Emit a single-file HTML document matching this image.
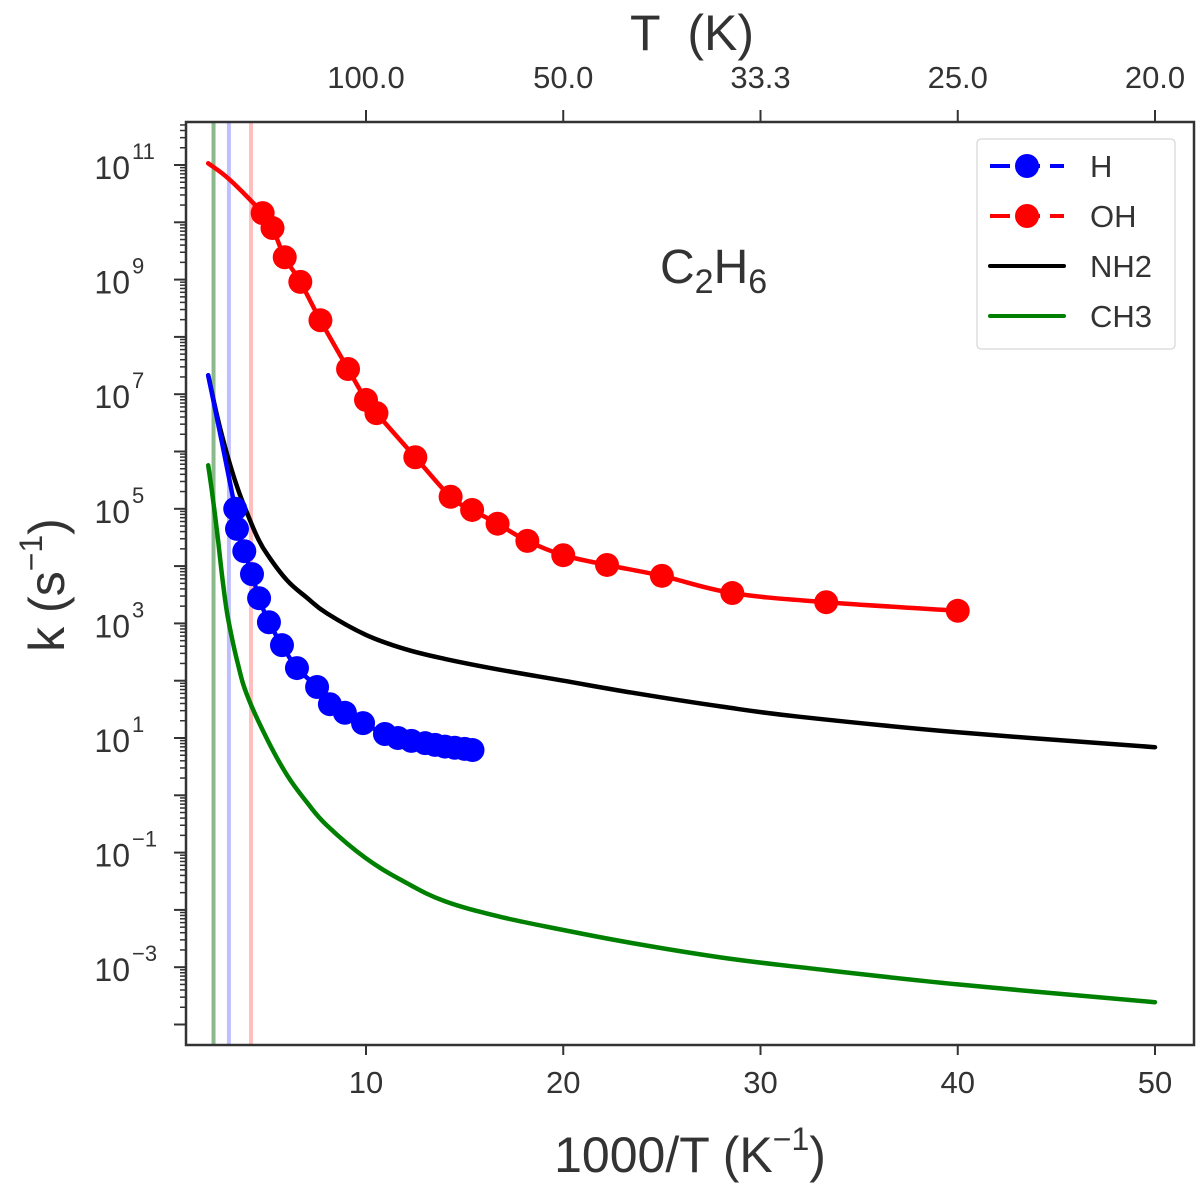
<!DOCTYPE html>
<html><head><meta charset="utf-8"><style>
html,body{margin:0;padding:0;background:#fff;}
svg{display:block;font-family:"Liberation Sans",sans-serif;}
</style></head><body>
<svg id="chart" width="1200" height="1188" viewBox="0 0 1200 1188" xmlns="http://www.w3.org/2000/svg">
<g id="vlines"></g>
<g id="series"></g>
<g id="axes"></g>
<text x="692" y="50" font-size="50" text-anchor="middle" fill="#333">T &#160;(K)</text>
<text x="690" y="1172" font-size="50" text-anchor="middle" fill="#333">1000/T (K<tspan font-size="32" dy="-22">−1</tspan><tspan dy="22">)</tspan></text>
<text transform="translate(64,585) rotate(-90)" font-size="50" text-anchor="middle" fill="#333">k (s<tspan font-size="32" dy="-22">−1</tspan><tspan dy="22">)</tspan></text>
<text x="660" y="283" font-size="48" fill="#333">C<tspan font-size="34" dy="10">2</tspan><tspan dy="-10">H</tspan><tspan font-size="34" dy="10">6</tspan></text>
<g>
<rect x="977" y="139" width="198" height="210" rx="4" fill="#fff" stroke="#ddd" stroke-width="1.5"/>
<g><line x1="990" y1="166" x2="1064" y2="166" stroke="#0000ff" stroke-width="4" stroke-dasharray="20,10"/><circle cx="1027" cy="166" r="12" fill="#0000ff"/><text x="1090" y="177" font-size="31" fill="#333">H</text></g>
<g><line x1="990" y1="216" x2="1064" y2="216" stroke="#ff0000" stroke-width="4" stroke-dasharray="20,10"/><circle cx="1027" cy="216" r="12" fill="#ff0000"/><text x="1090" y="227" font-size="31" fill="#333">OH</text></g>
<g><line x1="990" y1="266" x2="1064" y2="266" stroke="#000" stroke-width="4" stroke-linecap="round"/><text x="1090" y="277" font-size="31" fill="#333">NH2</text></g>
<g><line x1="990" y1="316" x2="1064" y2="316" stroke="#008000" stroke-width="4" stroke-linecap="round"/><text x="1090" y="327" font-size="31" fill="#333">CH3</text></g>
</g>
</svg>
<script>
// data (x = 1000/T, values = log10 k)
const ohX = [2, 3.1, 4.76, 5.26, 5.88, 6.67, 7.69, 9.09, 10, 10.53, 12.5, 14.29, 15.38, 16.67, 18.18, 20, 22.22, 25, 28.57, 33.33, 40];
const ohLogK = [11.03, 10.74, 10.16, 9.90, 9.39, 8.96, 8.29, 7.44, 6.90, 6.67, 5.90, 5.21, 4.98, 4.74, 4.44, 4.19, 4.02, 3.83, 3.53, 3.37, 3.22];
const ohMarkerStart = 2;
const hX = [2, 3.37, 3.46, 3.83, 4.22, 4.58, 5.08, 5.74, 6.5, 7.52, 8.17, 8.93, 9.85, 10.96, 11.62, 12.3, 13.0, 13.5, 14.0, 14.5, 15.0, 15.4];
const hLogK = [7.33, 5.0, 4.65, 4.26, 3.86, 3.44, 3.02, 2.62, 2.22, 1.89, 1.59, 1.44, 1.26, 1.07, 1.0, 0.95, 0.91, 0.88, 0.85, 0.83, 0.81, 0.79];
const hMarkerStart = 1;
const nh2X = [2, 2.5, 3, 3.5, 4, 4.5, 5, 6, 7, 8, 10, 12, 14, 16.8, 20, 23.5, 28, 32, 40, 50];
const nh2LogK = [7.33, 6.55, 5.9, 5.35, 4.9, 4.5, 4.2, 3.75, 3.45, 3.18, 2.8, 2.55, 2.38, 2.19, 2.0, 1.79, 1.55, 1.37, 1.1, 0.84];
const ch3X = [2, 2.25, 2.5, 2.75, 3, 3.5, 4, 5, 6, 7, 8, 10, 12, 14, 16.8, 20, 23.5, 28, 32, 40, 50];
const ch3LogK = [5.76, 5.15, 4.45, 3.7, 3.1, 2.3, 1.72, 0.97, 0.35, -0.12, -0.52, -1.1, -1.52, -1.85, -2.12, -2.35, -2.58, -2.83, -3.0, -3.3, -3.61];
const vlineX = [2.27, 3.05, 4.17];
const vlineColors = ['rgba(0,100,0,0.45)', 'rgba(0,0,255,0.25)', 'rgba(255,0,0,0.25)'];
const xTicks = [10, 20, 30, 40, 50];
const topTickLabels = ['100.0', '50.0', '33.3', '25.0', '20.0'];
const yMajor = [-4, -3, -2, -1, 0, 1, 2, 3, 4, 5, 6, 7, 8, 9, 10, 11];
const yLabelled = [-3, -1, 1, 3, 5, 7, 9, 11];

const L = 186, R = 1194, T = 122, B = 1045;
function sx(x) { return 168.75 + 19.725 * x; }
function sy(l) { return 165 + (11 - l) * 57.3; }
const NS = 'http://www.w3.org/2000/svg';
function mk(tag, attrs, parent) {
  const e = document.createElementNS(NS, tag);
  for (const k in attrs) e.setAttribute(k, attrs[k]);
  parent.appendChild(e);
  return e;
}
const vg = document.getElementById('vlines');
vlineX.forEach((v, i) => {
  const ln = mk('line', {x1: sx(v), x2: sx(v), y1: T, y2: B, stroke: vlineColors[i], 'stroke-width': 4}, vg);
  
  
});
const sg = document.getElementById('series');
function smoothPath(xs, ys) {
  const p = xs.map((x, i) => [sx(x), sy(ys[i])]);
  let d = 'M' + p[0][0].toFixed(1) + ',' + p[0][1].toFixed(1);
  const t = 0.18;
  for (let i = 0; i < p.length - 1; i++) {
    const p0 = p[i - 1] || p[i], p1 = p[i], p2 = p[i + 1], p3 = p[i + 2] || p2;
    const c1 = [p1[0] + (p2[0] - p0[0]) * t, p1[1] + (p2[1] - p0[1]) * t];
    const c2 = [p2[0] - (p3[0] - p1[0]) * t, p2[1] - (p3[1] - p1[1]) * t];
    d += ' C' + c1.map(v => v.toFixed(1)).join(',') + ' ' + c2.map(v => v.toFixed(1)).join(',') + ' ' + p2.map(v => v.toFixed(1)).join(',');
  }
  return d;
}
function line(xs, ys, color, name) {
  const p = mk('path', {d: smoothPath(xs, ys), fill: 'none', stroke: color, 'stroke-width': 4.5, 'stroke-linejoin': 'round', 'stroke-linecap': 'round'}, sg);
  
  
}
function markers(xs, ys, start, color, name) {
  for (let i = start; i < xs.length; i++) {
    const c = mk('circle', {cx: sx(xs[i]), cy: sy(ys[i]), r: 12, fill: color}, sg);
    
    
  }
}
line(ch3X, ch3LogK, '#008000', 'ch3-line');
line(nh2X, nh2LogK, '#000000', 'nh2-line');
line(hX, hLogK, '#0000ff', 'h-line');
markers(hX, hLogK, hMarkerStart, '#0000ff', 'h-point');
line(ohX, ohLogK, '#ff0000', 'oh-line');
markers(ohX, ohLogK, ohMarkerStart, '#ff0000', 'oh-point');

const ag = document.getElementById('axes');
const frame = mk('rect', {x: L, y: T, width: R - L, height: B - T, fill: 'none', stroke: '#333', 'stroke-width': 2.5}, ag);


xTicks.forEach((v, i) => {
  const x = sx(v);
  mk('line', {x1: x, x2: x, y1: B, y2: B + 10, stroke: '#333', 'stroke-width': 2}, ag);
  const t = mk('text', {x: x, y: B + 48, 'font-size': 31, 'text-anchor': 'middle', fill: '#333'}, ag);
  t.textContent = v;
  
  
  mk('line', {x1: x, x2: x, y1: T, y2: T - 12, stroke: '#333', 'stroke-width': 2}, ag);
  const t2 = mk('text', {x: x, y: 88, 'font-size': 31, 'text-anchor': 'middle', fill: '#333'}, ag);
  t2.textContent = topTickLabels[i];
  
  
});
yMajor.forEach(d => {
  const y = sy(d);
  if (y >= T - 1 && y <= B + 1) mk('line', {x1: L, x2: L - 12, y1: y, y2: y, stroke: '#333', 'stroke-width': 2}, ag);
  for (let m = 2; m <= 9; m++) {
    const ym = sy(d + Math.log10(m));
    if (ym >= T && ym <= B) mk('line', {x1: L, x2: L - 6, y1: ym, y2: ym, stroke: '#333', 'stroke-width': 1.5}, ag);
  }
});
yLabelled.forEach(d => {
  const y = sy(d);
  const t = mk('text', {x: 130, y: y + 14, 'font-size': 32, 'text-anchor': 'end', fill: '#333'}, ag);
  t.textContent = '10';
  
  
  const s = mk('text', {x: 132, y: y - 6, 'font-size': 22, 'text-anchor': 'start', fill: '#333'}, ag);
  s.textContent = d < 0 ? '−' + (-d) : String(d);
  
  
});
</script>
</body></html>
